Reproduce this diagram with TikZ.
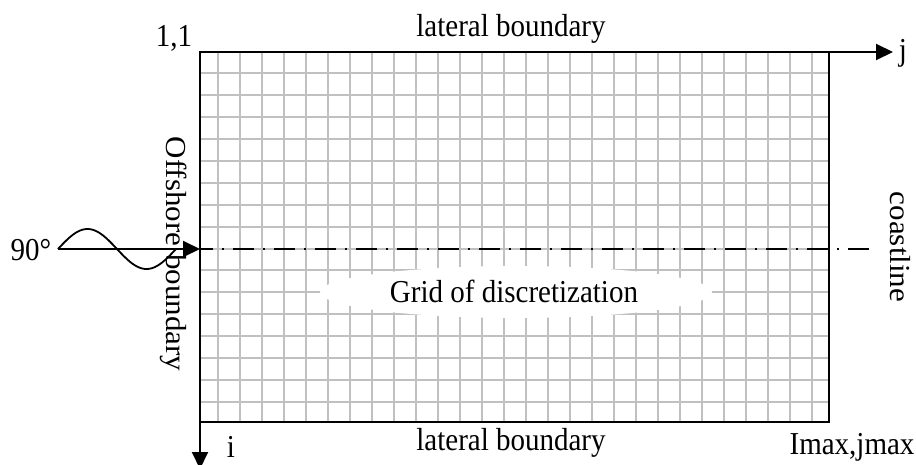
\documentclass[tikz,border=0pt]{standalone}
\usepackage{fontspec}
\usepackage{graphicx}
\setmainfont{Liberation Serif}
\usetikzlibrary{arrows.meta}
\definecolor{gridgray}{RGB}{192,192,192}
\newcommand{\tall}[1]{\scalebox{1}[1.1]{#1}}
\newcommand{\longer}[1]{\scalebox{1.07}[1]{#1}}
\tikzset{
  lbl/.style={inner sep=0pt, font=\fontsize{29}{34}\selectfont},
  gridline/.style={draw=gridgray, line width=2pt},
  border/.style={draw=black, line width=2.4pt},
  axisline/.style={draw=black, line width=2pt},
  bigtip/.style={-{Triangle[length=17pt,width=16pt]}},
  dashdot/.style={draw=black, line width=2.4pt, dash pattern=on 21pt off 9pt on 2pt off 9pt, dash phase=8pt},
}
\begin{document}
\begin{tikzpicture}[x=1pt,y=-1pt]
\useasboundingbox (0,0) rectangle (916,464);
% corners
\coordinate (tl) at (200,52);
\coordinate (br) at (829,422);
\coordinate (tr) at (829,52);
\coordinate (bl) at (200,422);
% grid
\foreach \k in {0,...,27} {
  \draw[gridline] ({217.7+22*\k},52) -- ({217.7+22*\k},422);
}
\foreach \k in {0,...,15} {
  \draw[gridline] (200,{73.3+21.9*\k}) -- (829,{73.3+21.9*\k});
}
% white cloud behind label
\fill[white] (516,292) ellipse [x radius=196, y radius=26];
% border
\draw[border] (tl) rectangle (br);
% axes
\coordinate (jtip) at (893,52);
\coordinate (itip) at (200,469);
\draw[axisline, bigtip] (tr) -- (jtip);
\draw[axisline, bigtip] (bl) -- (itip);
% coastline axis
\coordinate (axL) at (200,249);
\coordinate (axR) at (876,249);
\draw[dashdot] (axL) -- (axR);
% incoming wave
\coordinate (wstart) at (58,249);
\draw[axisline, bigtip] (wstart) -- (axL);
\draw[line width=1.8pt] plot[domain=0:360, samples=80, smooth] ({58+\x/360*118},{249-20*sin(\x)});
% labels
\node[lbl, anchor=base] (n11) at (174,46.5) {\tall{1,1}};
\node[lbl, anchor=base] (lattop) at (511,36.5) {\tall{lateral boundary}};
\node[lbl, anchor=base] (jlab) at (903,60) {\tall{j}};
\node[lbl, anchor=base] (latbot) at (511,450) {\tall{lateral boundary}};
\node[lbl, anchor=base] (imax) at (852,454) {\tall{Imax,jmax}};
\node[lbl, anchor=base] (ilab) at (231,457) {\tall{i}};
\node[lbl, anchor=base] (deg) at (31,260) {\tall{90°}};
\node[lbl, anchor=base] (grid) at (514,302) {\tall{Grid of discretization}};
\node[lbl, rotate=-90] (off) at (174,254) {\longer{Offshore boundary}};
\node[lbl, rotate=-90] (coast) at (900,247) {\longer{coastline}};
\end{tikzpicture}
\end{document}
